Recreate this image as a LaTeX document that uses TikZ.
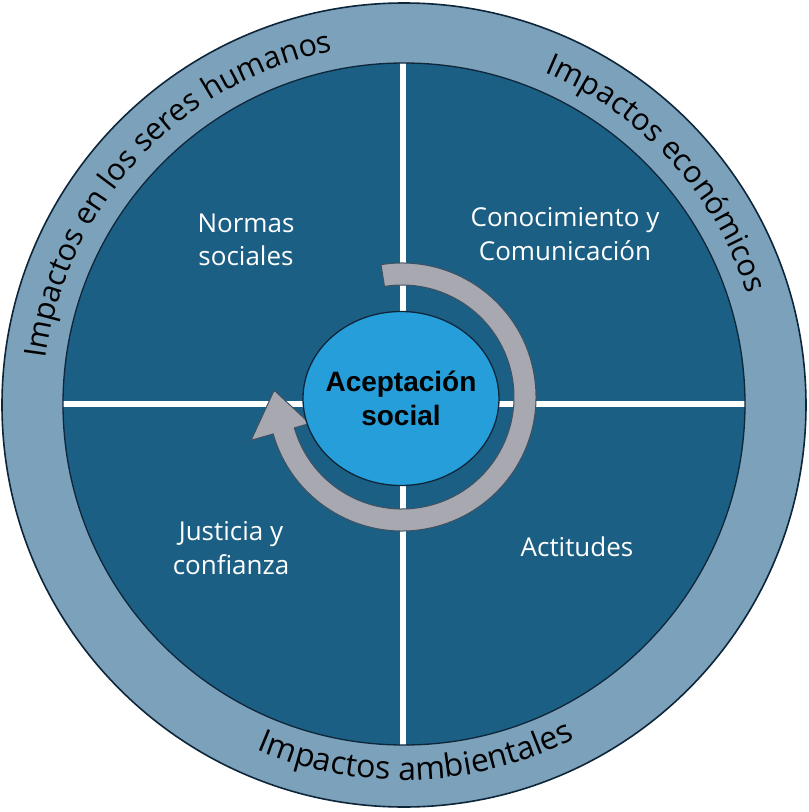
\documentclass[tikz,border=0pt]{standalone}
\usepackage{fontspec}
\setmainfont{Open Sans}
\newfontfamily\boldsans{Liberation Sans}
\usetikzlibrary{decorations.text}
\definecolor{ringcol}{RGB}{124,161,186}
\definecolor{quadcol}{RGB}{28,95,132}
\definecolor{centercol}{RGB}{37,158,218}
\definecolor{arrowcol}{RGB}{168,168,176}
\definecolor{edgecol}{RGB}{14,38,58}
\newcommand\ringfont{\fontsize{30.5}{30.5}\selectfont}
\newcommand\bottomfont{\fontsize{32}{32}\selectfont}
\newcommand\quadfont{\fontsize{26}{33.5}\selectfont}
\begin{document}
\begin{tikzpicture}[x=1pt,y=1pt,
  quadlabel/.style={text=white, font=\quadfont, align=center, inner sep=0pt},
  ringtext/.style={decorate, decoration={text along path, text align=center, text={|\ringfont|#1}}},
  bottomtext/.style={decorate, decoration={text along path, text align=center, text={|\bottomfont|#1}}},
  divider/.style={white, line width=6.5pt},
  rimline/.style={draw=edgecol, line width=1.3pt}
]
\useasboundingbox[fill=white] (-404,-407) rectangle (405,405);
\fill[ringcol] (0,0) circle[radius=402];
\draw[rimline, line width=1.6pt] (0,0) circle[radius=402];
\fill[quadcol] (0,1) circle[radius=341];
\begin{scope}
  \clip (0,1) circle[radius=341];
  \draw[divider] (-1,-345) -- (-1,345);
  \draw[divider] (-345,1) -- (345,1);
\end{scope}
\draw[rimline] (0,1) circle[radius=341];
% cycle arrow
\begin{scope}[shift={(-2,8)}]
  \filldraw[fill=arrowcol, draw=edgecol!80, line width=1pt]
    (99:134) arc[start angle=99, end angle=-164, radius=134]
    -- (-164:157) -- (177:128) -- (-164:96) -- (-164:112)
    arc[start angle=-164, end angle=99, radius=112] -- cycle;
\end{scope}
\filldraw[fill=centercol, rimline] (-3,6.5) ellipse[x radius=98, y radius=87];
\node[font=\boldsans\bfseries\fontsize{28}{34}\selectfont, align=center, inner sep=0pt] (acept) at (-3,7) {Aceptación\\social};
\node[quadlabel] (normas) at (-158,165) {Normas\\sociales};
\node[quadlabel] (conoc) at (161,171) {Conocimiento y\\Comunicación};
\node[quadlabel] (justicia) at (-173,-143) {Justicia y\\confianza};
\node[quadlabel] (actitudes) at (173,-142) {Actitudes};
\path[ringtext={Impactos en los seres humanos}] (195:361) arc[start angle=195, end angle=79, radius=361];
\path[ringtext={Impactos económicos}] (100:361) arc[start angle=100, end angle=-15, radius=361];
\path[bottomtext={Impactos ambientales}] (215:375) arc[start angle=215, end angle=329, radius=375];
\end{tikzpicture}
\end{document}
